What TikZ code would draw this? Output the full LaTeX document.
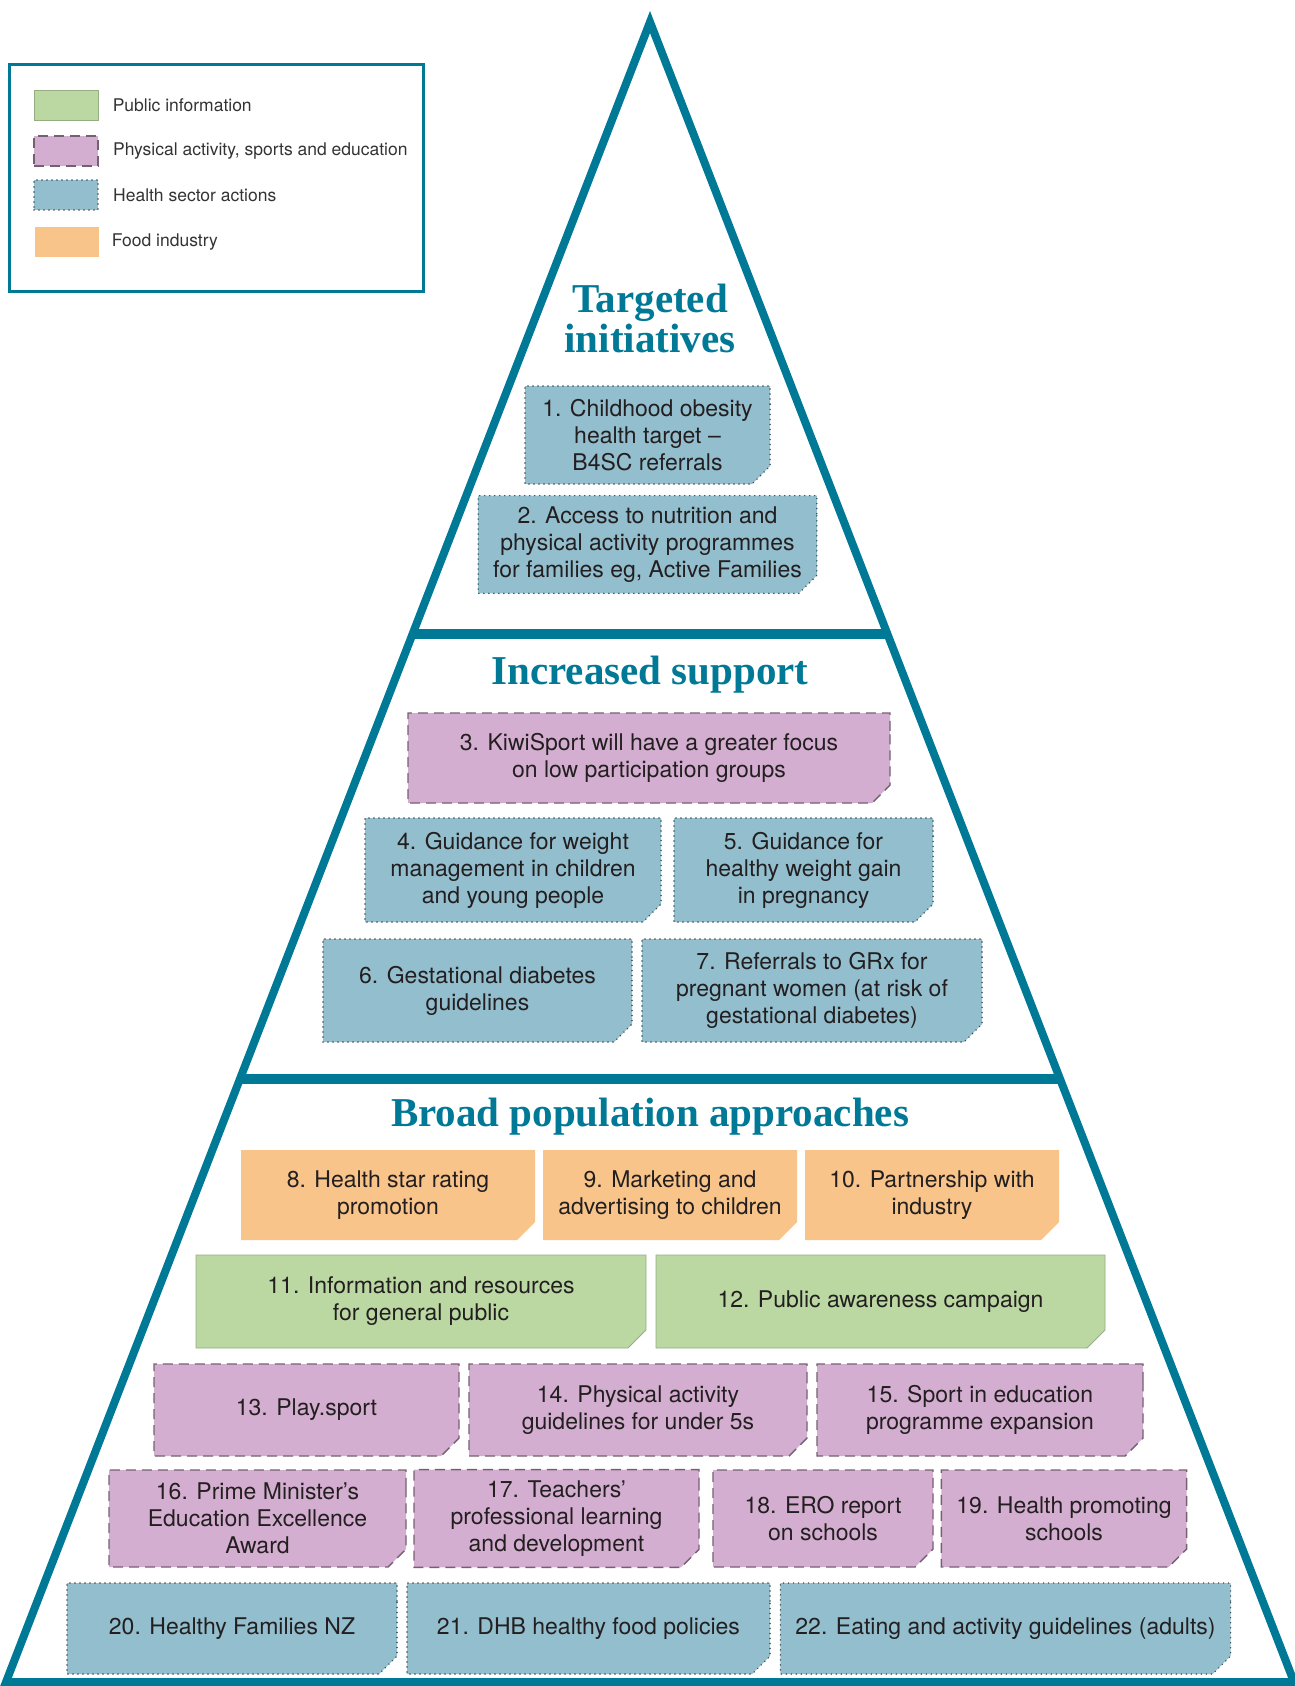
\documentclass[tikz,border=0pt]{standalone}
\usepackage{fontspec}
\setmainfont{TeX Gyre Heros}
\newfontfamily\titlefont{Liberation Serif}
\usepackage{xcolor}
\usepackage{tikz}
\usetikzlibrary{shapes.misc, positioning, calc}
\definecolor{pyramidcolor}{RGB}{0,121,150}
\definecolor{publiccolor}{RGB}{187,216,163}
\definecolor{physicalcolor}{RGB}{212,174,208}
\definecolor{healthcolor}{RGB}{146,190,206}
\definecolor{foodcolor}{RGB}{248,196,137}
\definecolor{inkcolor}{RGB}{35,31,32}

\begin{document}
\begin{tikzpicture}[
    x=0.5pt, y=-0.5pt,
    action/.style={chamfered rectangle, chamfered rectangle corners=south east, chamfered rectangle xsep=5.5pt, inner sep=2pt, align=center, text=inkcolor, font=\fontsize{11.5}{13.5}\selectfont},
    public/.style={action, fill=publiccolor, draw=publiccolor!80!black, line width=0.4pt},
    physical/.style={action, fill=physicalcolor, draw=physicalcolor!55!black, line width=0.7pt, dash pattern=on 5pt off 3pt},
    health/.style={action, fill=healthcolor, draw=healthcolor!40!black, line width=0.8pt, line cap=round, dash pattern=on 0pt off 2.5pt},
    food/.style={action, fill=foodcolor},
    sz/.style 2 args={minimum width=#1*0.5pt, minimum height=#2*0.5pt},
    pyramid/.style={draw=pyramidcolor, line width=4pt, line join=miter},
    divider/.style={draw=pyramidcolor, line width=4.75pt},
    layer/.style={text=pyramidcolor, font=\titlefont\bfseries\fontsize{20.5}{20}\selectfont, align=center, inner sep=0pt},
    swatch/.style={rectangle, minimum width=32pt, minimum height=15pt, inner sep=0pt},
    legendtext/.style={inner sep=0pt, text=black!80, font=\fontsize{8.75}{10}\selectfont}
]
    \useasboundingbox (0,0) rectangle (1295,1686);

    % Pyramid
    \coordinate (apex) at (650,22);
    \coordinate (bl) at (6,1682);
    \coordinate (br) at (1294,1682);
    \draw[pyramid] (apex) -- (bl) -- (br) -- cycle;
    \coordinate (d1l) at ($(apex)!0.3687!(bl)$);
    \coordinate (d1r) at ($(apex)!0.3687!(br)$);
    \coordinate (d2l) at ($(apex)!0.6367!(bl)$);
    \coordinate (d2r) at ($(apex)!0.6367!(br)$);
    \draw[divider] (d1l) -- (d1r);
    \draw[divider] (d2l) -- (d2r);

    % Layer titles
    \node[layer] (targeted) at (650,318) {Targeted\\initiatives};
    \node[layer, anchor=base] (increased) at (650,684) {Increased support};
    \node[layer, anchor=base] (broad) at (650,1126) {Broad population approaches};

    % Targeted initiatives
    \node[health, sz={245}{98}] (obesity) at (647.5,435) {1. Childhood obesity\\health target –\\B4SC referrals};
    \node[health, sz={327}{97}] (access) at (647.5,544.5) {2. Access to nutrition and\\physical activity programmes\\for families eg, Active Families};

    % Increased support
    \node[physical, sz={482}{90}] (kiwisport) at (649,758) {3. KiwiSport will have a greater focus\\on low participation groups};
    \node[health, sz={296}{104}] (weightchild) at (513,870) {4. Guidance for weight\\management in children\\and young people};
    \node[health, sz={259}{104}] (weightpreg) at (803.5,870) {5. Guidance for\\healthy weight gain\\in pregnancy};
    \node[health, sz={309}{103}] (gdm) at (477.5,990.5) {6. Gestational diabetes\\guidelines};
    \node[health, sz={340}{103}] (grx) at (812,990.5) {7. Referrals to GRx for\\pregnant women (at risk of\\gestational diabetes)};

    % Broad population approaches
    \node[food, sz={294}{90}] (starrating) at (388,1195) {8. Health star rating\\promotion};
    \node[food, sz={254}{90}] (marketing) at (670,1195) {9. Marketing and\\advertising to children};
    \node[food, sz={254}{90}] (industry) at (932,1195) {10. Partnership with\\industry};
    \node[public, sz={450}{93}] (resources) at (421,1301.5) {11. Information and resources\\for general public};
    \node[public, sz={449}{93}] (campaign) at (880.5,1301.5) {12. Public awareness campaign};
    \node[physical, sz={305}{92}] (playsport) at (306.5,1410) {13. Play.sport};
    \node[physical, sz={338}{92}] (underfive) at (638,1410) {14. Physical activity\\guidelines for under 5s};
    \node[physical, sz={326}{92}] (sportedu) at (980,1410) {15. Sport in education\\programme expansion};
    \node[physical, sz={297}{97}] (pmaward) at (257.5,1518.5) {16. Prime Minister’s\\Education Excellence\\Award};
    \node[physical, sz={285}{97}] (teachers) at (556.5,1518.5) {17. Teachers’\\professional learning\\and development};
    \node[physical, sz={220}{97}] (ero) at (823,1518.5) {18. ERO report\\on schools};
    \node[physical, sz={244}{97}] (promoting) at (1064,1518.5) {19. Health promoting\\schools};
    \node[health, sz={330}{91}] (hfnz) at (232,1628.5) {20. Healthy Families NZ};
    \node[health, sz={363}{91}] (dhb) at (588.5,1628.5) {21. DHB healthy food policies};
    \node[health, sz={449}{91}] (eating) at (1005.5,1628.5) {22. Eating and activity guidelines (adults)};

    % Legend
    \draw[pyramidcolor, line width=1.5pt] (9,65) rectangle (423,291);
    \node[public, swatch] (swpublic) at (66,105.5) {};
    \node[physical, swatch] (swphysical) at (66,151) {};
    \node[health, swatch] (swhealth) at (66,195) {};
    \node[food, swatch] (swfood) at (67,242) {};
    \node[legendtext, right=7pt of swpublic] (lgpublic) {Public information};
    \node[legendtext, right=7pt of swphysical] (lgphysical) {Physical activity, sports and education};
    \node[legendtext, right=7pt of swhealth] (lghealth) {Health sector actions};
    \node[legendtext, right=6pt of swfood] (lgfood) {Food industry};
\end{tikzpicture}
\end{document}
